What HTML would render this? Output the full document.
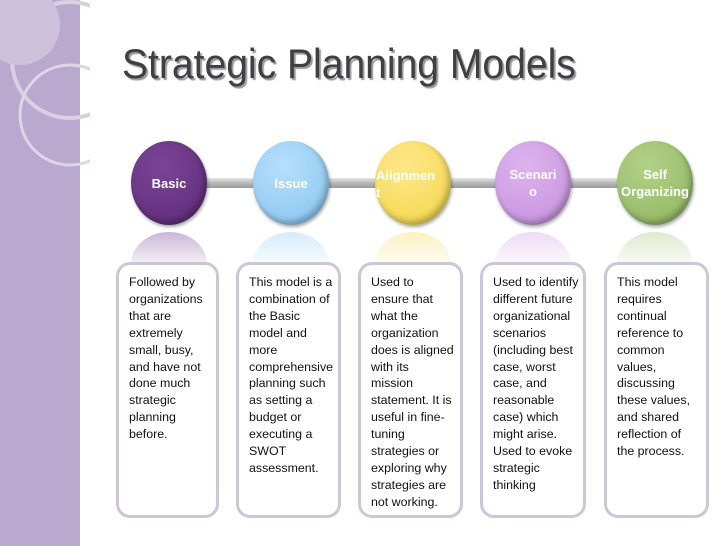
<!DOCTYPE html>
<html><head><style>
body{margin:0;width:728px;height:546px;position:relative;overflow:hidden;background:#fff;font-family:"Liberation Sans",sans-serif}
.side{position:absolute;left:0;top:0;width:80px;height:546px;background:#b9a9cf}
.title{position:absolute;left:122px;top:40px;font-size:42px;color:#3f3f44;white-space:nowrap;transform:scaleX(0.93);transform-origin:left top;text-shadow:2px 2px 1px #9a9a9a}
.bar{position:absolute;left:190px;top:178px;width:460px;height:10px;background:linear-gradient(#e6e6e6,#b9b9b9 50%,#9a9a9a);}
.c{position:absolute;width:76px;height:84px;border-radius:50%;color:#fff;font-weight:bold;font-size:13px;display:flex;align-items:center;justify-content:center;text-align:center;line-height:17px;box-shadow:1px 2px 3px rgba(0,0,0,.35), inset -3px -4px 6px rgba(0,0,0,.25)}
.r{position:absolute;width:76px;height:40px;top:232px;border-radius:50% 50% 0 0/80% 80% 0 0;opacity:.45}
.b{position:absolute;top:262px;height:256px;border:3px solid #cdc5d8;border-radius:14px;background:#fff;box-sizing:border-box;padding:9px 0 0 10px;font-size:12.4px;line-height:16.9px;color:#111}
</style></head><body>
<div class="side"></div>
<svg style="position:absolute;left:0;top:0" width="90" height="180"><circle cx="70" cy="60" r="58" fill="none" stroke="#d9d0e3" stroke-width="4"/><circle cx="70" cy="115" r="50" fill="none" stroke="#ddd6e6" stroke-width="3"/><circle cx="20" cy="25" r="40" fill="#cdc1dc"/></svg>
<div class="title">Strategic Planning Models</div>
<div class="bar"></div>
<div class="r" style="left:131px;background:linear-gradient(#8a5ea8,rgba(255,255,255,0))"></div>
<div class="r" style="left:253px;background:linear-gradient(#a8d4f4,rgba(255,255,255,0))"></div>
<div class="r" style="left:375px;background:linear-gradient(#f6e07a,rgba(255,255,255,0))"></div>
<div class="r" style="left:495px;background:linear-gradient(#d6aee8,rgba(255,255,255,0))"></div>
<div class="r" style="left:617px;background:linear-gradient(#b5cf96,rgba(255,255,255,0))"></div>
<div class="c" style="left:131px;top:141px;background:radial-gradient(circle at 40% 30%,#7a4594,#5c2a78)">Basic</div>
<div class="c" style="left:253px;top:141px;background:radial-gradient(circle at 40% 30%,#b6e0fb,#86c3ef)">Issue</div>
<div class="c" style="left:375px;top:141px;background:radial-gradient(circle at 40% 30%,#fde889,#f2d448);justify-content:flex-start;text-align:left;padding-top:26px;align-items:flex-start;box-sizing:border-box"><span style="margin-left:1px">Alignmen<br>t</span></div>
<div class="c" style="left:495px;top:141px;background:radial-gradient(circle at 40% 30%,#ddb3ee,#c58fdc)">Scenari<br>o</div>
<div class="c" style="left:617px;top:141px;background:radial-gradient(circle at 40% 30%,#b2d188,#8fb560)">Self<br>Organizing</div>
<div class="b" style="left:116px;width:103px">Followed by<br>organizations<br>that are<br>extremely<br>small, busy,<br>and have not<br>done much<br>strategic<br>planning<br>before.</div>
<div class="b" style="left:236px;width:105px">This model is a<br>combination of<br>the Basic<br>model and<br>more<br>comprehensive<br>planning such<br>as setting a<br>budget or<br>executing a<br>SWOT<br>assessment.</div>
<div class="b" style="left:358px;width:105px">Used to<br>ensure that<br>what the<br>organization<br>does is aligned<br>with its<br>mission<br>statement. It is<br>useful in fine-<br>tuning<br>strategies or<br>exploring why<br>strategies are<br>not working.</div>
<div class="b" style="left:480px;width:106px">Used to identify<br>different future<br>organizational<br>scenarios<br>(including best<br>case, worst<br>case, and<br>reasonable<br>case) which<br>might arise.<br>Used to evoke<br>strategic<br>thinking</div>
<div class="b" style="left:604px;width:105px">This model<br>requires<br>continual<br>reference to<br>common<br>values,<br>discussing<br>these values,<br>and shared<br>reflection of<br>the process.</div>
</body></html>
